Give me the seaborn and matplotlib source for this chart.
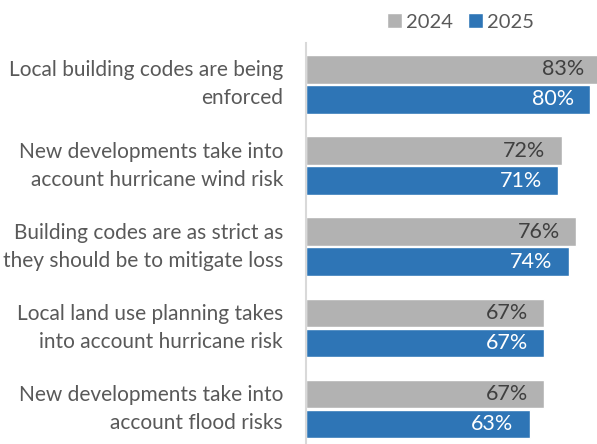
import matplotlib
matplotlib.use("Agg")
import matplotlib.pyplot as plt
import seaborn as sns
import pandas as pd
from matplotlib.patches import Patch

statements = [
    "Local building codes are being\nenforced",
    "New developments take into\naccount hurricane wind risk",
    "Building codes are as strict as\nthey should be to mitigate loss",
    "Local land use planning takes\ninto account hurricane risk",
    "New developments take into\naccount flood risks",
]
years = ["2024", "2025"]
pct_2024 = [83, 72, 76, 67, 67]
pct_2025 = [80, 71, 74, 67, 63]

GRAY = "#b2b2b2"
BLUE = "#2e75b6"
TEXT = "#595959"

df = pd.DataFrame({
    "statement": statements * 2,
    "year": [years[0]] * len(statements) + [years[1]] * len(statements),
    "pct": pct_2024 + pct_2025,
})

sns.set_theme(style="white")
plt.rcParams["font.family"] = ["Lato", "DejaVu Sans"]

fig = plt.figure(figsize=(5.97, 4.44), dpi=100)
ax = fig.add_axes([306 / 597, 0.0, 1 - 306 / 597, (444 - 43) / 444])

sns.barplot(data=df, y="statement", x="pct", hue="year", orient="h",
            palette=[GRAY, BLUE], width=0.74, gap=0.05, ax=ax,
            legend=False, saturation=1)

ax.set_xlim(0, 82)
ax.set_ylim(4.43, -0.51)
ax.set_xlabel("")
ax.set_ylabel("")
ax.set_xticks([])
ax.tick_params(axis="y", length=0, pad=16.5, labelsize=15, labelcolor=TEXT)
for lbl in ax.get_yticklabels():
    lbl.set_horizontalalignment("right")
    lbl.set_verticalalignment("center")
    lbl.set_linespacing(1.5)

for side in ["top", "right", "bottom"]:
    ax.spines[side].set_visible(False)
ax.spines["left"].set_color("#d9d9d9")
ax.spines["left"].set_linewidth(1.5)

# value labels inside the bar ends
for container, color in zip(ax.containers, ["#404040", "white"]):
    for bar in container:
        v = bar.get_width()
        ax.annotate(f"{v:.0f}%", xy=(v, bar.get_y() + bar.get_height() / 2),
                    xytext=(-11.5, 0), textcoords="offset points",
                    ha="right", va="center", fontsize=15.5, color=color,
                    annotation_clip=False)

handles = [Patch(facecolor=GRAY, label=years[0]),
           Patch(facecolor=BLUE, label=years[1])]
fig.legend(handles=handles, loc="center right", bbox_to_anchor=(534 / 597, 1 - 22 / 444),
           ncol=2, frameon=False, fontsize=14.5, labelcolor=TEXT,
           handlelength=0.75, handleheight=0.75, handletextpad=0.2,
           columnspacing=0.75, borderpad=0, borderaxespad=0)

fig.savefig("out.png", dpi=100)
